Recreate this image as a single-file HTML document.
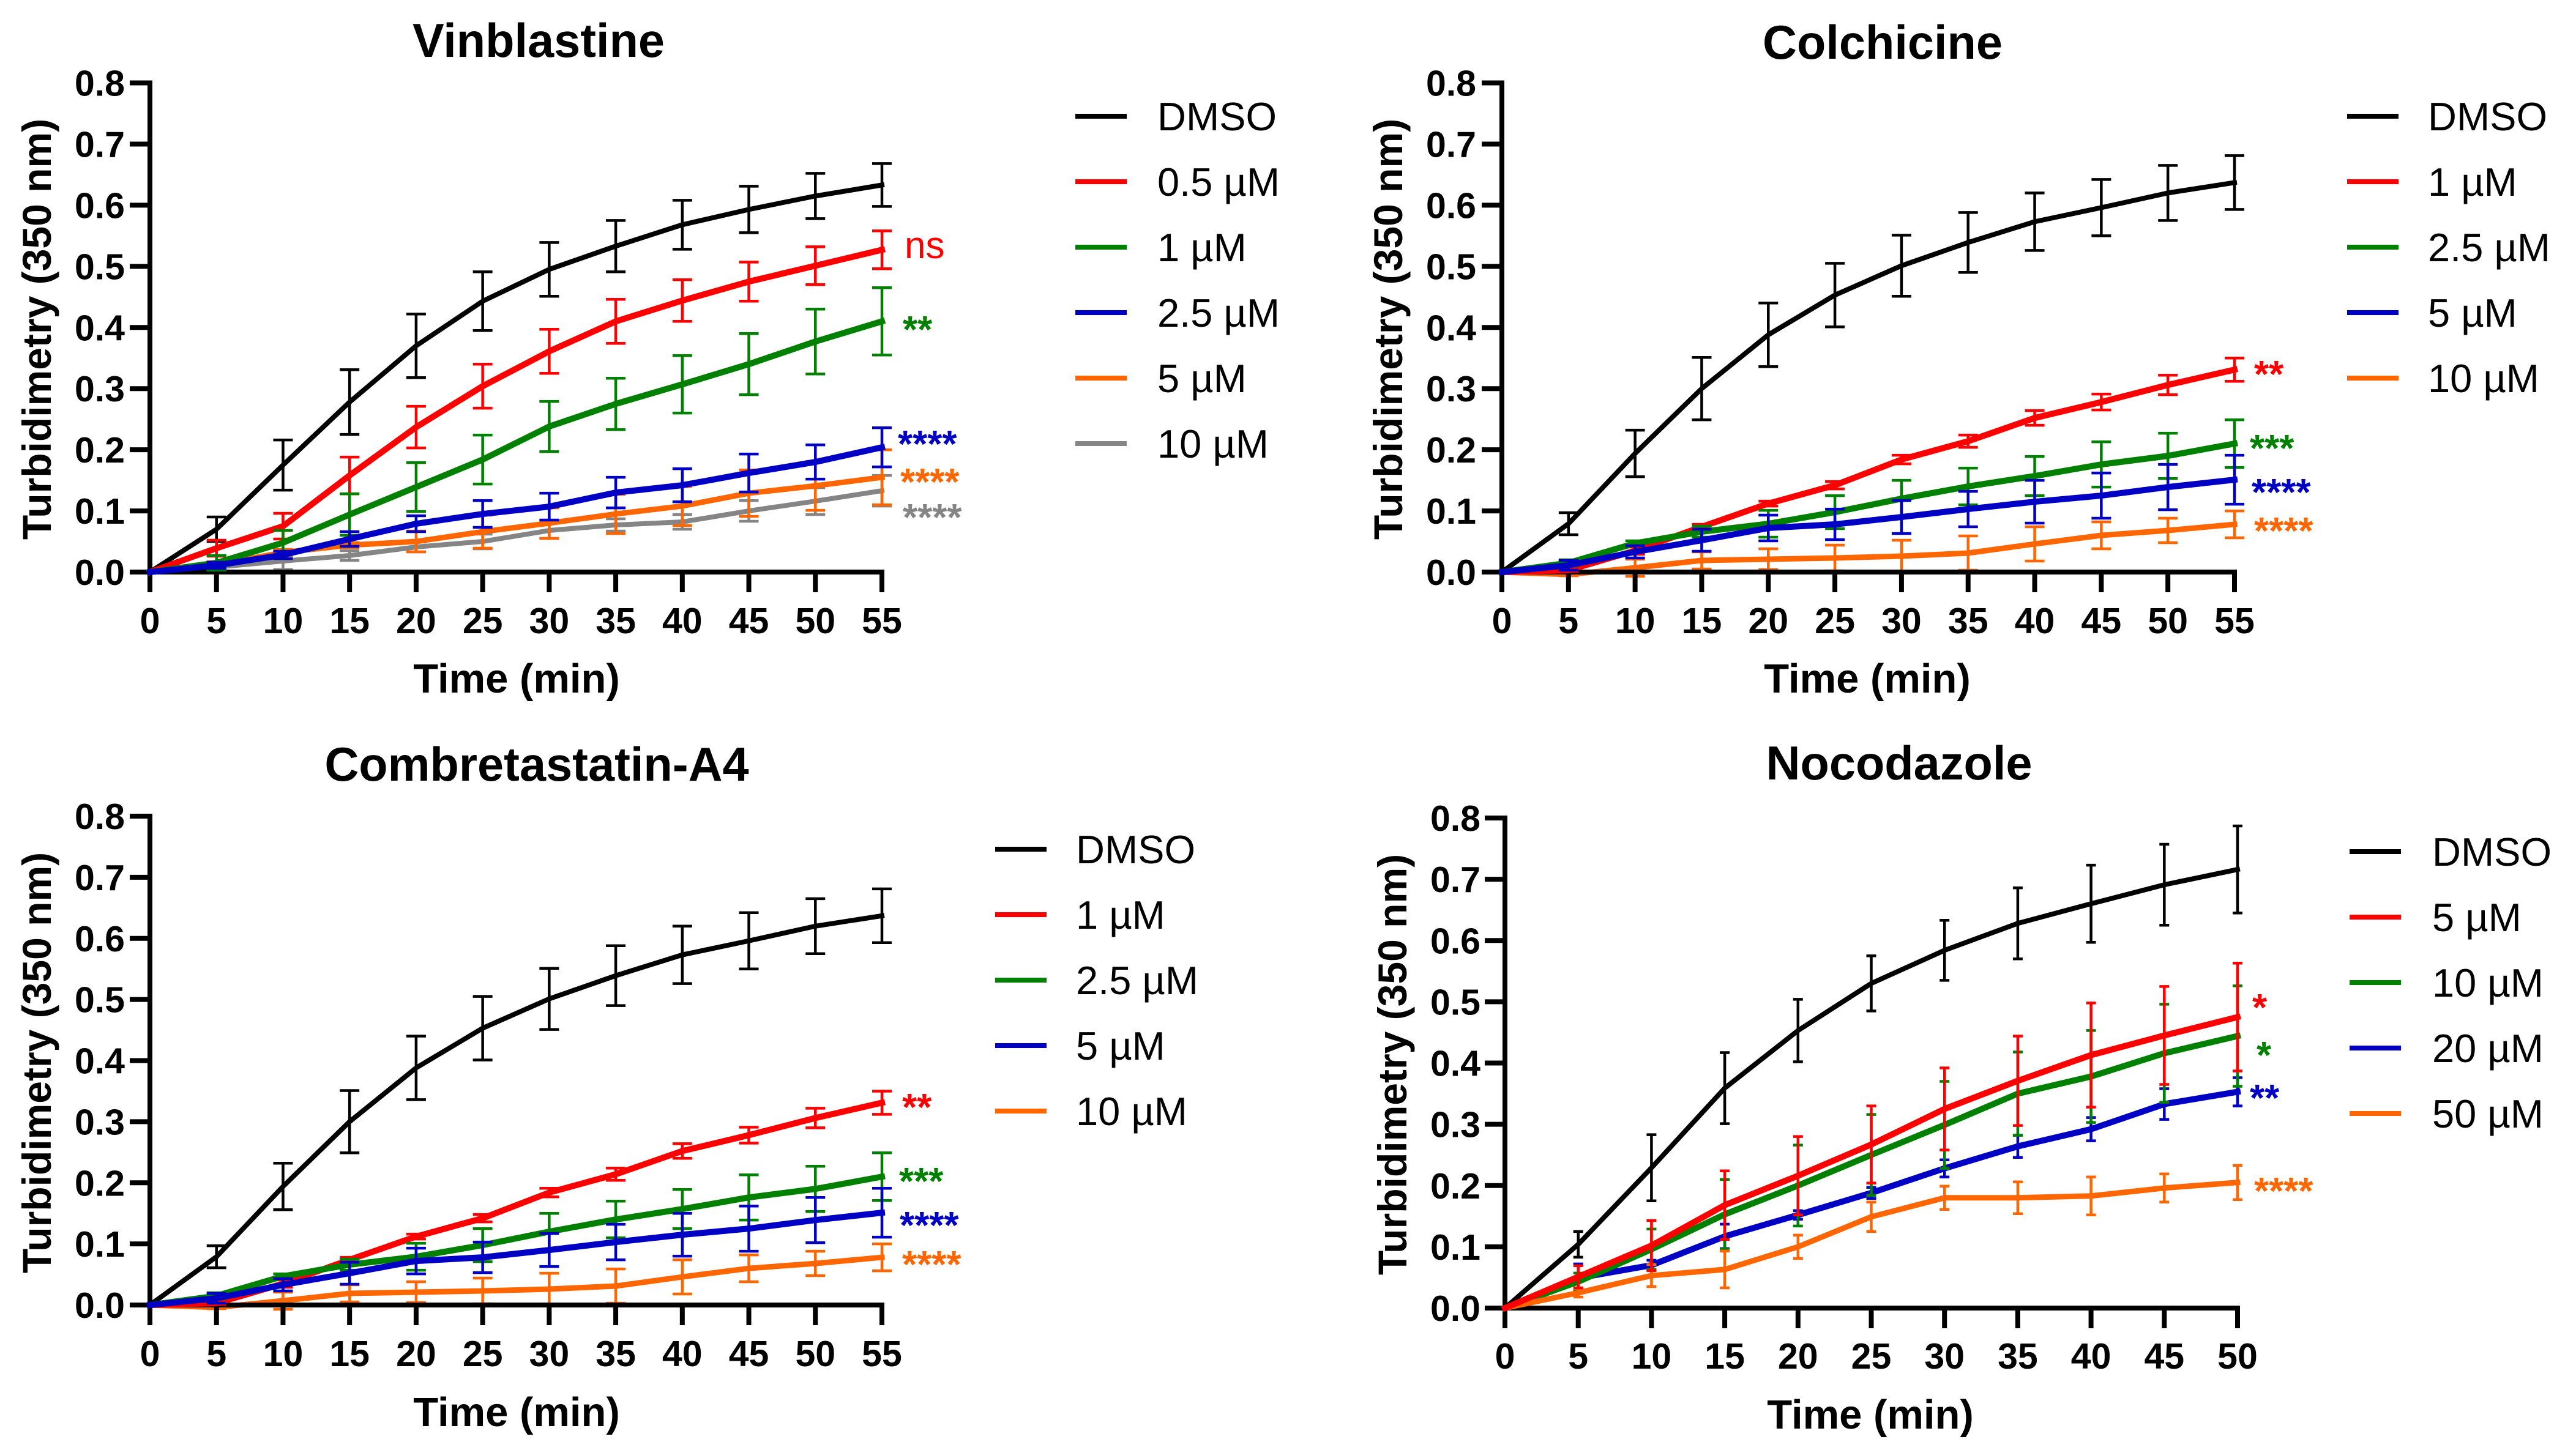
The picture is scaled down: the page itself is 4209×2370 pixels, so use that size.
<!DOCTYPE html>
<html lang="en">
<head>
<meta charset="utf-8">
<title>Tubulin polymerisation turbidimetry</title>
<style>
html,body{margin:0;padding:0;background:#fff;}
#chart{display:block;width:4209px;height:2370px;}
text{font-family:"Liberation Sans",Arial,sans-serif;}
</style>
</head>
<body>
<svg id="chart" xmlns="http://www.w3.org/2000/svg" width="4209" height="2370" viewBox="0 0 4209 2370"></svg>
<script>
// ---------- shared axis data ----------
const times55 = [0,5,10,15,20,25,30,35,40,45,50,55];
const times50 = [0,5,10,15,20,25,30,35,40,45,50];
const yTicks = [0,0.1,0.2,0.3,0.4,0.5,0.6,0.7,0.8];
const yTickLabels = ["0.0","0.1","0.2","0.3","0.4","0.5","0.6","0.7","0.8"];

// ---------- Vinblastine ----------
const vinLabels = ["DMSO","0.5 µM","1 µM","2.5 µM","5 µM","10 µM"];
const vinDmso = [0,.07,.175,.278,.37,.443,.495,.533,.568,.593,.615,.633];
const vinDmsoErr = [0,.02,.041,.053,.052,.048,.044,.042,.04,.038,.037,.035];
const vin05 = [0,.039,.075,.158,.237,.304,.361,.41,.444,.475,.501,.527];
const vin05Err = [0,.013,.021,.03,.034,.036,.036,.036,.034,.032,.031,.031];
const vin1 = [0,.015,.048,.094,.139,.184,.238,.275,.307,.34,.377,.41];
const vin1Err = [0,.012,.02,.034,.04,.04,.041,.042,.047,.05,.053,.055];
const vin25 = [0,.011,.028,.054,.079,.095,.107,.13,.142,.162,.18,.204];
const vin25Err = [0,.005,.006,.012,.013,.022,.022,.025,.027,.031,.028,.032];
const vin5 = [0,.012,.032,.044,.05,.066,.08,.095,.108,.129,.141,.155];
const vin5Err = [0,.005,.005,.004,.017,.027,.025,.032,.032,.038,.04,.045];
const vin10 = [0,.008,.018,.027,.041,.05,.068,.077,.082,.1,.116,.133];
const vin10Err = [0,.004,.014,.008,.008,.012,.013,.01,.012,.017,.022,.025];

// ---------- Colchicine ----------
const colLabels = ["DMSO","1 µM","2.5 µM","5 µM","10 µM"];
const colDmso = [0,.079,.194,.30,.388,.453,.501,.539,.573,.596,.62,.637];
const colDmsoErr = [0,.018,.038,.051,.052,.052,.05,.049,.047,.046,.045,.044];
const col1 = [0,.003,.035,.074,.112,.142,.184,.214,.252,.278,.306,.331];
const col1Err = [0,.002,.006,.004,.004,.006,.007,.01,.012,.013,.016,.019];
const col25 = [0,.015,.047,.066,.079,.098,.12,.14,.157,.176,.19,.21];
const col25Err = [0,.005,.004,.009,.022,.027,.03,.03,.032,.037,.037,.039];
const col5 = [0,.011,.033,.052,.072,.078,.09,.103,.115,.125,.139,.151];
const col5Err = [0,.008,.01,.018,.021,.025,.027,.029,.035,.037,.037,.04];
const col10 = [0,-.004,.007,.019,.021,.023,.026,.031,.046,.06,.068,.078];
const col10Err = [0,.002,.014,.014,.017,.021,.026,.028,.028,.022,.02,.022];

// ---------- Combretastatin-A4 ----------
const comLabels = ["DMSO","1 µM","2.5 µM","5 µM","10 µM"];
const comDmso = [0,.079,.194,.30,.388,.453,.501,.539,.573,.596,.62,.637];
const comDmsoErr = [0,.018,.038,.051,.052,.052,.05,.049,.047,.046,.045,.044];
const com1 = [0,.003,.035,.074,.112,.142,.184,.214,.252,.278,.306,.331];
const com1Err = [0,.002,.006,.004,.004,.006,.007,.01,.012,.013,.016,.019];
const com25 = [0,.015,.047,.066,.079,.098,.12,.14,.157,.176,.19,.21];
const com25Err = [0,.005,.004,.009,.022,.027,.03,.03,.032,.037,.037,.039];
const com5 = [0,.011,.033,.052,.072,.078,.09,.103,.115,.125,.139,.151];
const com5Err = [0,.008,.01,.018,.021,.025,.027,.029,.035,.037,.037,.04];
const com10 = [0,-.004,.007,.019,.021,.023,.026,.031,.046,.06,.068,.078];
const com10Err = [0,.002,.014,.014,.017,.021,.026,.028,.028,.022,.02,.022];

// ---------- Nocodazole ----------
const nocLabels = ["DMSO","5 µM","10 µM","20 µM","50 µM"];
const nocDmso = [0,.104,.229,.359,.453,.53,.584,.628,.66,.691,.716];
const nocDmsoErr = [0,.021,.054,.058,.051,.045,.049,.058,.063,.066,.071];
const noc5 = [0,.051,.102,.168,.216,.267,.325,.371,.413,.445,.475];
const noc5Err = [0,.018,.041,.056,.064,.063,.067,.073,.085,.08,.088];
const noc10 = [0,.043,.096,.153,.2,.25,.299,.35,.378,.416,.444];
const noc10Err = [0,.014,.033,.057,.066,.066,.071,.068,.075,.08,.082];
const noc20 = [0,.049,.07,.117,.152,.188,.228,.264,.292,.333,.353];
const noc20Err = [0,.023,.008,.02,.007,.009,.014,.018,.019,.025,.023];
const noc50 = [0,.025,.053,.063,.1,.149,.18,.18,.183,.196,.205];
const noc50Err = [0,.007,.018,.03,.019,.024,.019,.026,.031,.023,.028];

// ---------- colours ----------
const BLACK="#000000",RED="#ff0000",GREEN="#008000",BLUE="#0000c4",ORANGE="#ff6600",GREY="#858585";
const WIDTH={[BLACK]:8,[RED]:10,[GREEN]:10,[BLUE]:10,[ORANGE]:9,[GREY]:8};

// ---------- panels: layout + references to the data above ----------
const panels = [
 {slug:"vinblastine",title:"Vinblastine",x0:245,x1:1441,y0:935,y8:135.5,times:times55,capW:32,
  titleX:880,titleY:93,tickY:1035,xtX:844,xtY:1132,ylabR:204,ytX:83,ytY:538,
  legLine:1757,legText:1891,legY:190,
  labels:vinLabels,colors:[BLACK,RED,GREEN,BLUE,ORANGE,GREY],
  values:[vinDmso,vin05,vin1,vin25,vin5,vin10],errs:[vinDmsoErr,vin05Err,vin1Err,vin25Err,vin5Err,vin10Err],
  under:[5,4],over:[0,1,2,3],
  notes:[["ns",RED,1478,422,62,true],["**",GREEN,1475,529],["****",BLUE,1467,716],["****",ORANGE,1471,778],["****",GREY,1475,836]]},
 {slug:"colchicine",title:"Colchicine",x0:2454,x1:3651,y0:935,y8:135.5,times:times55,capW:32,
  titleX:3076,titleY:96,tickY:1035,xtX:3051,xtY:1132,ylabR:2412,ytX:2291,ytY:538,
  legLine:3835,legText:3967,legY:190,
  labels:colLabels,colors:[BLACK,RED,GREEN,BLUE,ORANGE],
  values:[colDmso,col1,col25,col5,col10],errs:[colDmsoErr,col1Err,col25Err,col5Err,col10Err],
  under:[4],over:[0,1,2,3],
  notes:[["**",RED,3683,602],["***",GREEN,3676,723],["****",BLUE,3679,795],["****",ORANGE,3683,858]]},
 {slug:"combretastatin",title:"Combretastatin-A4",x0:245,x1:1441,y0:2133,y8:1334,times:times55,capW:32,
  titleX:877,titleY:1276,tickY:2233,xtX:844,xtY:2331,ylabR:204,ytX:83,ytY:1737,
  legLine:1626,legText:1758,legY:1388,
  labels:comLabels,colors:[BLACK,RED,GREEN,BLUE,ORANGE],
  values:[comDmso,com1,com25,com5,com10],errs:[comDmsoErr,com1Err,com25Err,com5Err,com10Err],
  under:[4],over:[0,1,2,3],
  notes:[["**",RED,1474,1800],["***",GREEN,1469,1921],["****",BLUE,1470,1993],["****",ORANGE,1474,2057]]},
 {slug:"nocodazole",title:"Nocodazole",x0:2459,x1:3656,y0:2138,y8:1337,times:times50,capW:16,
  titleX:3103,titleY:1274,tickY:2237,xtX:3056,xtY:2335,ylabR:2419,ytX:2298,ytY:1740,
  legLine:3839,legText:3974,legY:1392,
  labels:nocLabels,colors:[BLACK,RED,GREEN,BLUE,ORANGE],
  values:[nocDmso,noc5,noc10,noc20,noc50],errs:[nocDmsoErr,noc5Err,noc10Err,noc20Err,noc50Err],
  under:[],over:[0,3,2,4,1],
  notes:[["*",RED,3680,1637],["*",GREEN,3687,1715],["**",BLUE,3676,1785],["****",ORANGE,3683,1937]]}
];

const NS="http://www.w3.org/2000/svg";
const svg=document.getElementById("chart");
function mk(tag,attrs,parent){
  const e=document.createElementNS(NS,tag);
  for(const k in attrs){e.setAttribute(k,attrs[k]);}
  parent.appendChild(e);
  return e;
}
function slugOf(s){return s.toLowerCase().replace(/µ/g,"u").replace(/[^a-z0-9]+/g,"-");}

function drawSeries(p,i,parent,xScale,yScale){
  const color=p.colors[i], vals=p.values[i], errs=p.errs[i];
  const g=mk("g",{},parent);
  
  
  vals.forEach((v,j)=>{
    if(errs[j]===0)return;
    const x=xScale(p.times[j]), hi=yScale(v+errs[j]), lo=yScale(v-errs[j]), w=p.capW/2;
    const eb=mk("path",{d:`M${x} ${hi}V${lo}M${x-w} ${hi}H${x+w}M${x-w} ${lo}H${x+w}`,fill:"none",stroke:color,"stroke-width":4.5},g);
    
    
  });
  const pts=vals.map((v,j)=>xScale(p.times[j])+","+yScale(v)).join(" ");
  const line=mk("polyline",{points:pts,fill:"none",stroke:color,"stroke-width":WIDTH[color],"stroke-linejoin":"round","stroke-linecap":"square"},g);
  
  
}

panels.forEach(p=>{
  const tMax=p.times[p.times.length-1];
  const xScale=t=>p.x0+(p.x1-p.x0)*t/tMax;
  const yScale=v=>p.y0-(p.y0-p.y8)*v/0.8;
  const panel=mk("g",{},svg);
  
  

  const title=mk("text",{x:p.titleX,y:p.titleY,"text-anchor":"middle","font-size":77.5,"font-weight":"bold",fill:"#000"},panel);
  title.textContent=p.title;
  
  

  // series drawn beneath the axes
  p.under.forEach(i=>drawSeries(p,i,panel,xScale,yScale));

  // axes
  const axes=mk("g",{stroke:"#000","stroke-width":8,fill:"none"},panel);
  
  
  const ya=mk("path",{d:`M${p.x0} ${p.y8-4}V${p.y0+33}`},axes);
  
  
  const xa=mk("path",{d:`M${p.x0-33} ${p.y0}H${p.x1+4}`},axes);
  
  

  yTicks.forEach((v,i)=>{
    const y=yScale(v);
    const t=mk("path",{d:`M${p.x0-33} ${y}H${p.x0}`},axes);
    
    
    const l=mk("text",{x:p.ylabR,y:y+21,"text-anchor":"end","font-size":59,"font-weight":"bold",fill:"#000"},panel);
    l.textContent=yTickLabels[i];
    
    
  });
  p.times.forEach(tv=>{
    const x=xScale(tv);
    const t=mk("path",{d:`M${x} ${p.y0}V${p.y0+33}`},axes);
    
    
    const l=mk("text",{x:x,y:p.tickY,"text-anchor":"middle","font-size":59,"font-weight":"bold",fill:"#000"},panel);
    l.textContent=String(tv);
    
    
  });

  const xt=mk("text",{x:p.xtX,y:p.xtY,"text-anchor":"middle","font-size":67,"font-weight":"bold",fill:"#000"},panel);
  xt.textContent="Time (min)";
  
  
  const yt=mk("text",{x:0,y:0,transform:`translate(${p.ytX} ${p.ytY}) rotate(-90)`,"text-anchor":"middle","font-size":66,"font-weight":"bold",fill:"#000"},panel);
  yt.textContent="Turbidimetry (350 nm)";
  
  

  // series drawn over the axes
  p.over.forEach(i=>drawSeries(p,i,panel,xScale,yScale));

  // significance annotations
  p.notes.forEach(n=>{
    const big=n[5]===true;
    const a=mk("text",{x:n[2],y:big?n[3]:n[3]+31,"font-size":big?n[4]:62,"font-weight":big?"normal":"bold",fill:n[1]},panel);
    a.textContent=n[0];
    
    
  });

  // legend
  const lg=mk("g",{},panel);
  
  
  p.labels.forEach((lab,i)=>{
    const y=p.legY+i*107;
    const entry=mk("g",{},lg);
    
    
    const sw=mk("line",{x1:p.legLine,x2:p.legLine+84,y1:y,y2:y,stroke:p.colors[i],"stroke-width":8},entry);
    
    
    const t=mk("text",{x:p.legText,y:y+23,"font-size":65,fill:"#000"},entry);
    t.textContent=lab;
    
    
  });
});
</script>
</body>
</html>
